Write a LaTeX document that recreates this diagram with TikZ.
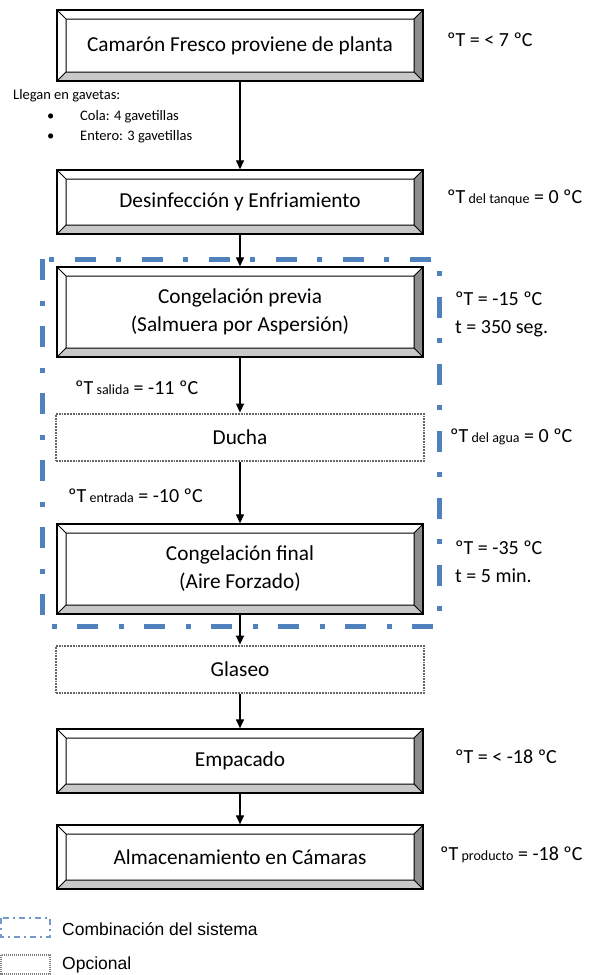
\documentclass[tikz,border=0pt]{standalone}
\usepackage{fontspec}
\setmainfont{Carlito}
\newfontfamily\legendfont{Liberation Sans}
\usepackage{tikz}
\usetikzlibrary{arrows.meta,positioning}
\definecolor{sysblue}{RGB}{79,129,189}
\definecolor{bevelbot}{RGB}{200,200,200}
\definecolor{bevelside}{RGB}{140,140,140}
\newcommand{\bw}{9pt}
\newcommand{\sub}[1]{{\fontsize{14}{16}\selectfont #1}}

\begin{document}
\begin{tikzpicture}[x=1pt, y=1pt, node distance=100pt, auto]
        % Define styles
        \tikzstyle{stage} = [rectangle, draw, line width=1.3pt, fill=white, minimum width=366pt, minimum height=64pt, inner sep=0pt, align=center, font=\fontsize{21.3}{28}\selectfont,
          path picture={
            \path (path picture bounding box.north west) coordinate (bnw) ++(\bw,-\bw) coordinate (inw)
                  (path picture bounding box.north east) coordinate (bne) ++(-\bw,-\bw) coordinate (ine)
                  (path picture bounding box.south east) coordinate (bse) ++(-\bw,\bw) coordinate (ise)
                  (path picture bounding box.south west) coordinate (bsw) ++(\bw,\bw) coordinate (isw);
            \fill [bevelbot] (bsw) -- (bse) -- (ise) -- (isw) -- cycle;
            \fill [bevelside] (bse) -- (bne) -- (ine) -- (ise) -- cycle;
            \draw [line width=1pt] (inw) rectangle (ise) (bnw) -- (inw) (bne) -- (ine) (bse) -- (ise) (bsw) -- (isw);
          }]
        \tikzstyle{optional} = [rectangle, draw=black!60, line width=2.8pt, dash pattern=on 1.8pt off 1pt, fill=white, minimum width=368pt, minimum height=47pt, inner sep=0pt, font=\fontsize{21.3}{28}\selectfont]
        \tikzstyle{arrow} = [line width=1.2pt, ->, >={Triangle[length=9pt,width=8pt]}]
        \tikzstyle{temp} = [anchor=west, inner sep=0pt, align=left, font=\fontsize{20}{28}\selectfont]
        \tikzstyle{note} = [anchor=west, inner sep=0pt, font=\fontsize{14.5}{17}\selectfont]
        \tikzstyle{legend} = [anchor=west, inner sep=0pt, font=\legendfont\fontsize{17.5}{20}\selectfont]

        \useasboundingbox (0,0) rectangle (600,-975);

        % System combination frame
        \draw [sysblue, line width=5pt, dash pattern=on 21pt off 21pt on 5pt off 20pt] (42,-259) rectangle (439,-626);

        % Process stages
        \node [stage, minimum height=71pt] (camaron) at (240,-45.5) {Camarón Fresco proviene de planta};
        \node [stage, below of=camaron, node distance=156.5pt] (desinf) {Desinfección y Enfriamiento};
        \node [stage, minimum height=90pt, below of=desinf, node distance=110pt] (congprev) {Congelación previa\\(Salmuera por Aspersión)};
        \node [optional, below of=congprev, node distance=125.5pt] (ducha) {Ducha};
        \node [stage, minimum height=90pt, below of=ducha, node distance=131.5pt] (congfin) {Congelación final\\(Aire Forzado)};
        \node [optional, below of=congfin, node distance=100.5pt] (glaseo) {Glaseo};
        \node [stage, below of=glaseo, node distance=91.5pt] (empacado) {Empacado};
        \node [stage, below of=empacado, node distance=96pt] (almacen) {Almacenamiento en Cámaras};

        % Arrows
        \draw [arrow] (camaron) -- (desinf);
        \draw [arrow] (desinf) -- (congprev);
        \draw [arrow] (congprev) -- (ducha);
        \draw [arrow] (ducha) -- (congfin);
        \draw [arrow] (congfin) -- (glaseo);
        \draw [arrow] (glaseo) -- (empacado);
        \draw [arrow] (empacado) -- (almacen);

        % Temperatures and times
        \node [temp] (t1) at (447,-40) {ºT = < 7 ºC};
        \node [temp] (t2) at (447,-198) {ºT\sub{ del tanque} = 0 ºC};
        \node [temp] (t3) at (455,-314) {ºT = -15 ºC\\t = 350 seg.};
        \node [temp] (tsal) at (75,-388) {ºT\sub{ salida} = -11 ºC};
        \node [temp] (t4) at (450,-437) {ºT\sub{ del agua} = 0 ºC};
        \node [temp] (tent) at (68,-496) {ºT\sub{ entrada} = -10 ºC};
        \node [temp] (t5) at (455,-562) {ºT = -35 ºC\\t = 5 min.};
        \node [temp] (t6) at (455,-757) {ºT = < -18 ºC};
        \node [temp] (t7) at (440,-855) {ºT\sub{ producto} = -18 ºC};

        % Crates
        \node [note] (llegan) at (13,-96) {Llegan en gavetas:};
        \node [note] (b1) at (47,-117) {•};
        \node [note] (cola) at (80,-117) {Cola: 4 gavetillas};
        \node [note] (b2) at (47,-137) {•};
        \node [note] (entero) at (80,-137) {Entero: 3 gavetillas};

        % Legend
        \draw [sysblue!80, line width=1.5pt, dash pattern=on 6pt off 4pt on 2pt off 4pt] (1,-918) rectangle (50,-937);
        \draw [gray, line width=1.5pt, dash pattern=on 1.2pt off 0.8pt] (1,-955) rectangle (50,-974);
        \node [legend] (legsys) at (62,-929) {Combinación del sistema};
        \node [legend] (legopt) at (62,-965) {Opcional};
    \end{tikzpicture}
\end{document}
